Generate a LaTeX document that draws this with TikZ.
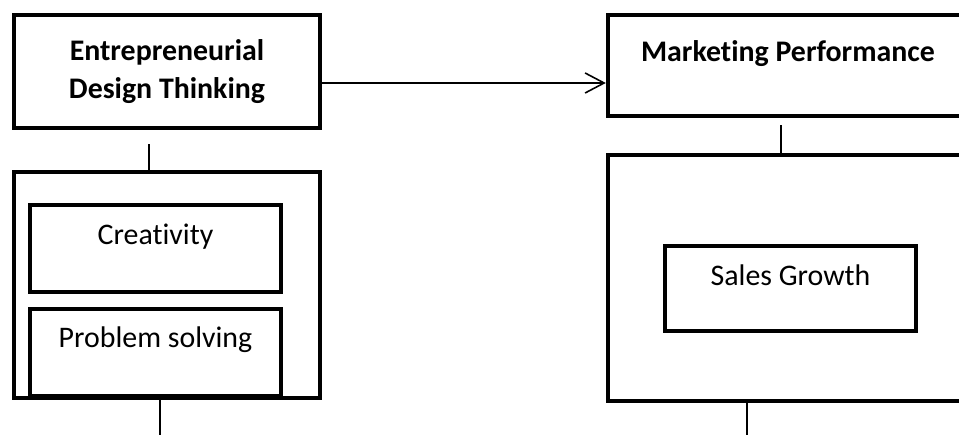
\documentclass[tikz,border=0pt]{standalone}
\usepackage{fontspec}
\setmainfont{Carlito}[Ligatures=NoCommon]
\usetikzlibrary{arrows.meta}

\begin{document}
\begin{tikzpicture}[
  box/.style={draw, line width=2.5pt, inner sep=0pt, align=center, font=\fontsize{17}{21.5}\selectfont},
  boldbox/.style={box, font=\fontsize{17}{21.5}\selectfont\bfseries},
  lifted/.style={text height=0.4cm, text depth=#1},
  link/.style={line width=0.9pt}
]
\useasboundingbox (0,0) rectangle (19.18,-8.70);
\clip (0,0) rectangle (19.18,-8.70);
\node[boldbox, minimum width=6.12cm, minimum height=2.26cm] (edt) at (3.34,-1.43) {Entrepreneurial\\Design Thinking};
\node[box, minimum width=6.12cm, minimum height=4.52cm] (dims) at (3.34,-5.70) {};
\node[box, lifted=0.54cm, minimum width=5.02cm, minimum height=1.74cm] (crea) at (3.11,-4.97) {Creativity};
\node[box, lifted=0.62cm, minimum width=5.02cm, minimum height=1.74cm] (prob) at (3.11,-7.05) {Problem solving};
\node[boldbox, lifted=0.54cm, minimum width=7.2cm, minimum height=2.02cm] (mp) at (15.76,-1.31) {Marketing Performance};
\node[box, minimum width=7.2cm, minimum height=4.92cm] (perf) at (15.76,-5.56) {};
\node[box, lifted=0.50cm, minimum width=5.02cm, minimum height=1.70cm] (sales) at (15.81,-5.77) {Sales Growth};
\draw[link, -{Straight Barb[length=0.38cm, width=0.4cm]}] ([yshift=-0.23cm]edt.east) -- ([yshift=-0.23cm]edt.east -| mp.west);
\draw[link] ([xshift=-0.36cm,yshift=-0.28cm]edt.south) -- ([xshift=-0.36cm]dims.north);
\draw[link] ([xshift=-0.14cm]dims.south) -- ++(0,-1);
\draw[link] ([xshift=3.5cm,yshift=-0.14cm]mp.south west) -- ([xshift=3.5cm]perf.north west);
\draw[link] ([xshift=2.82cm]perf.south west) -- ++(0,-1);
\end{tikzpicture}
\end{document}
